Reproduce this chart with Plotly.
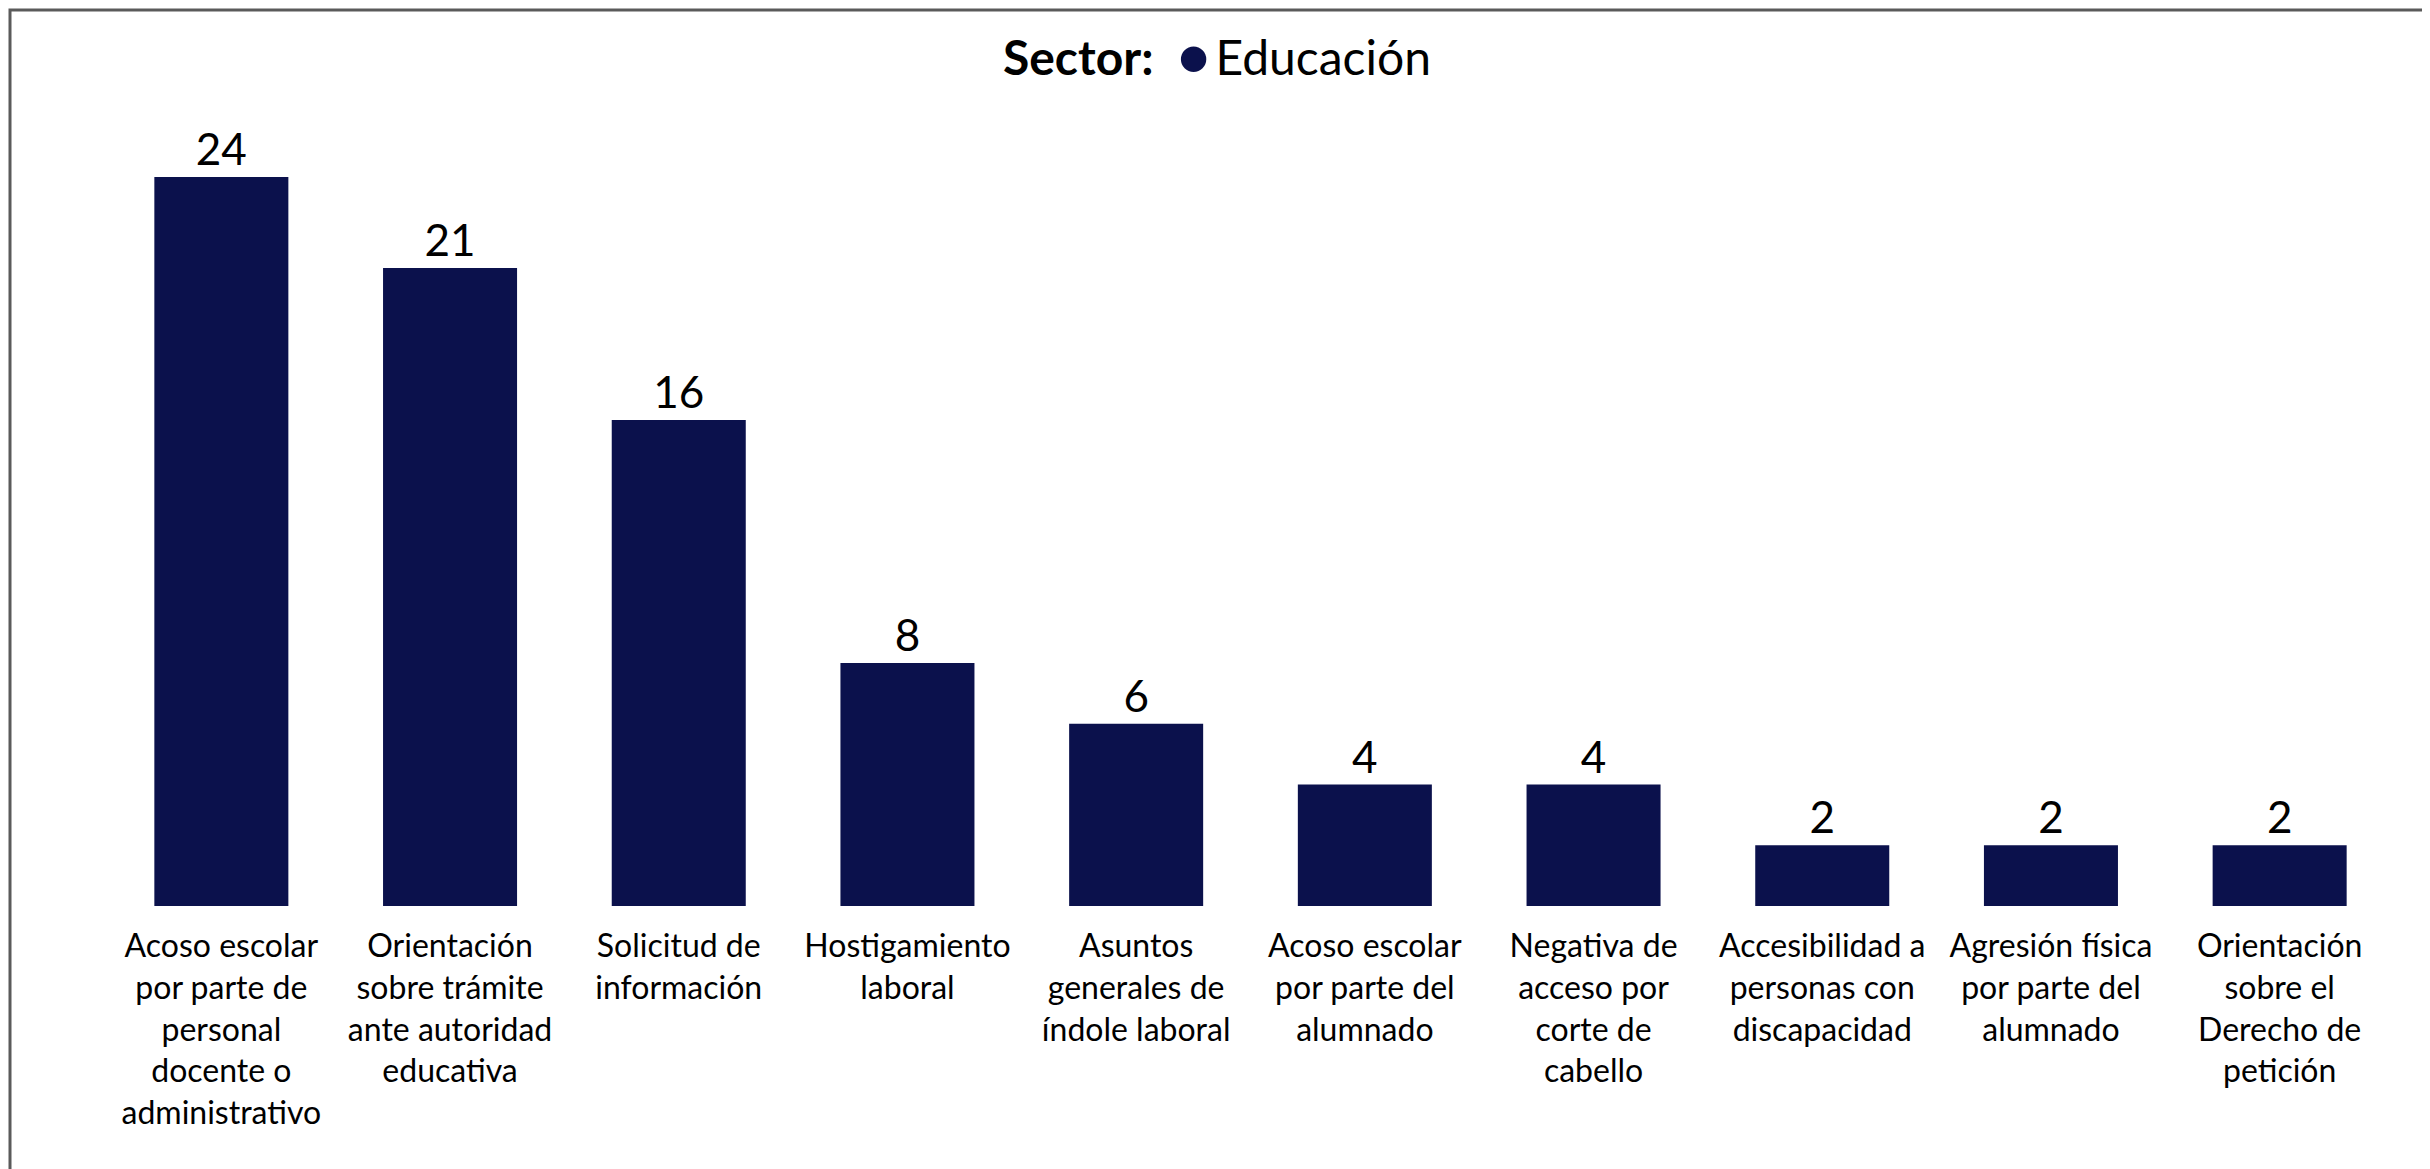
import plotly.graph_objects as go

categories = [
    "Acoso escolar por parte de personal docente o administrativo",
    "Orientación sobre trámite ante autoridad educativa",
    "Solicitud de información",
    "Hostigamiento laboral",
    "Asuntos generales de índole laboral",
    "Acoso escolar por parte del alumnado",
    "Negativa de acceso por corte de cabello",
    "Accesibilidad a personas con discapacidad",
    "Agresión física por parte del alumnado",
    "Orientación sobre el Derecho de petición",
]
values = [24, 21, 16, 8, 6, 4, 4, 2, 2, 2]
tick_labels = [
    "Acoso escolar<br>por parte de<br>personal<br>docente o<br>administrativo",
    "Orientación<br>sobre trámite<br>ante autoridad<br>educativa",
    "Solicitud de<br>información",
    "Hostigamiento<br>laboral",
    "Asuntos<br>generales de<br>índole laboral",
    "Acoso escolar<br>por parte del<br>alumnado",
    "Negativa de<br>acceso por<br>corte de<br>cabello",
    "Accesibilidad a<br>personas con<br>discapacidad",
    "Agresión física<br>por parte del<br>alumnado",
    "Orientación<br>sobre el<br>Derecho de<br>petición",
]
series_name = "Educación"

BAR_COLOR = "#0B114C"
FONT = "Lato"
# page has an 8px body margin, so the figure is sized to fit inside it
W, H = 2422, 1161
ML, MR, MT, MB = 99, 36, 92, 263
PW, PH = W - ML - MR, H - MT - MB


def px_to_paper_x(px):
    return (px - ML) / PW


def px_to_paper_y(py):
    return (H - MB - py) / PH


fig = go.Figure()
fig.add_trace(go.Bar(
    x=categories,
    y=values,
    marker=dict(color=BAR_COLOR, line=dict(width=0)),
    text=values,
    textposition="outside",
    textfont=dict(family=FONT, size=44, color="#000000"),
    cliponaxis=False,
    showlegend=False,
    name=series_name,
))

fig.update_layout(
    width=W,
    height=H,
    margin=dict(l=ML, r=MR, t=MT, b=MB),
    paper_bgcolor="white",
    plot_bgcolor="white",
    bargap=0.414,
    font=dict(family=FONT, color="#000000"),
    title=dict(
        text=("<b>Sector:</b>  <span style='color:%s;font-size:52px'>●</span>"
              "<span style='font-size:24px'> </span>%s" % (BAR_COLOR, series_name)),
        x=px_to_paper_x(1209),
        xanchor="center",
        xref="paper",
        y=1 - 50 / H,
        yanchor="middle",
        yref="container",
        font=dict(family=FONT, size=48, color="#000000"),
    ),
    xaxis=dict(
        tickmode="array",
        tickvals=categories,
        ticktext=tick_labels,
        tickfont=dict(family=FONT, size=32, color="#000000"),
        showline=False,
        showgrid=False,
        zeroline=False,
        ticks="outside",
        ticklen=12,
        tickcolor="rgba(0,0,0,0)",
        tickangle=0,
    ),
    yaxis=dict(
        range=[0, PH / (729 / 24)],
        visible=False,
        showgrid=False,
        zeroline=False,
    ),
    shapes=[
        dict(
            type="rect",
            xref="paper", yref="paper",
            x0=px_to_paper_x(2), x1=px_to_paper_x(W + 20),
            y0=px_to_paper_y(2), y1=px_to_paper_y(H + 20),
            line=dict(color="#5a5a5a", width=3),
            fillcolor="rgba(0,0,0,0)",
            layer="below",
        )
    ],
)

fig.write_html("out.html")
